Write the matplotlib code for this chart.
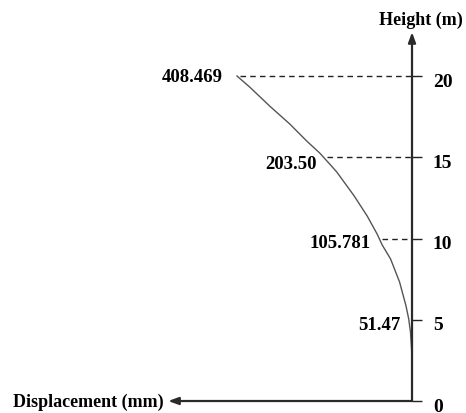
import numpy as np
import matplotlib
matplotlib.use("Agg")
import matplotlib.pyplot as plt
from matplotlib.transforms import ScaledTranslation

# ---- data ----
curve_height = [0, 2.2, 3.2, 4.25, 5.05, 5.85, 7.32, 8.74, 9.6, 10.28, 11.38,
                12.62, 14.09, 14.58, 15.26, 16.0, 17.05, 18.15, 19.32, 20]
curve_disp = [0, 0, 1.0, 3.6, 7.7, 14, 29, 50, 69.5, 81.5, 104.5,
              135, 175.5, 192, 215.4, 245.8, 285.4, 332.1, 378.8, 408.469]
label_heights = [20, 15, 10, 5]
label_texts = ["408.469", "203.50", "105.781", "51.47"]
dashed_heights = [20, 15, 10]
tick_values = [0, 5, 10, 15, 20]
tick_labels = ["0", "5", "10", "15", "20"]

FONT = dict(family="Liberation Serif", weight="bold", size=13.5)
TITLEFONT = dict(family="Liberation Serif", weight="bold", size=13)
TICKFONT = dict(family="Liberation Serif", weight="bold", size=14)

fig = plt.figure(figsize=(4.66, 4.14), dpi=100)
ax = fig.add_axes([0, 0, 1, 1])
ax.set_xlim(961.6, -126.0)   # displacement grows to the left
ax.set_ylim(-0.738, 24.74)
ax.patch.set_alpha(0)

for s in ["left", "top", "bottom"]:
    ax.spines[s].set_visible(False)
ax.spines["right"].set_position(("data", 0))
ax.spines["right"].set_visible(False)
ax.yaxis.set_ticks_position("right")
ax.set_xticks([])
ax.set_yticks(tick_values)
ax.set_yticklabels(tick_labels, fontdict=TICKFONT)
ax.tick_params(axis="y", direction="out", length=7.5, width=1.0, pad=7.5,
               color="#222222", labelcolor="black")
shift = ScaledTranslation(0, -3 / 100, fig.dpi_scale_trans)
for lab in ax.get_yticklabels():
    lab.set_transform(lab.get_transform() + shift)

axis_color = "#2a2a2a"
y_tip = 22.7
x_tip = 569.0
arrow = dict(arrowstyle="-|>,head_length=0.6,head_width=0.22", lw=1.6,
             color=axis_color, shrinkA=0, shrinkB=0, mutation_scale=10)
ax.annotate("", xy=(0, y_tip), xytext=(0, 0), arrowprops=arrow)
ax.annotate("", xy=(x_tip, 0), xytext=(0, 0), arrowprops=arrow)

ax.annotate("Height (m)", xy=(0, y_tip), xytext=(9, 4), textcoords="offset pixels",
            ha="center", va="bottom", **TITLEFONT)
ax.annotate("Displacement (mm)", xy=(x_tip, 0), xytext=(-5, 0), textcoords="offset pixels",
            ha="right", va="center", **TITLEFONT)

# curve
ax.plot(curve_disp, curve_height, color="#555555", lw=1.0)

# dashed guides
for h in dashed_heights:
    xc = np.interp(h, curve_height, curve_disp)
    ax.plot([xc - 7, 0], [h, h], color="#222222", lw=1.0, ls=(0, (4, 3)))

# value labels
offsets = {20: (-14, 0), 15: (-7, -6), 10: (-9, -4), 5: (-8, -5)}
for h, t in zip(label_heights, label_texts):
    xc = np.interp(h, curve_height, curve_disp)
    dx, dy = offsets[h]
    ax.annotate(t, xy=(xc, h), xytext=(dx, dy), textcoords="offset pixels",
                ha="right", va="center", **FONT)

fig.savefig("out.png", dpi=100)
